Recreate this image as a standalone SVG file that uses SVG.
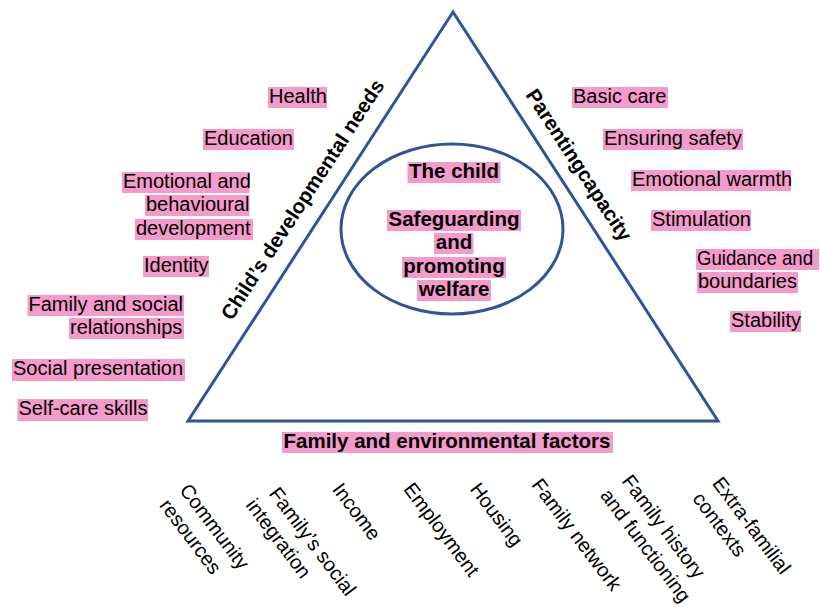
<svg xmlns="http://www.w3.org/2000/svg" width="820" height="607" viewBox="0 0 820 607">
<style>
.t{font-family:"Liberation Sans",Arial,sans-serif;font-size:20px;fill:#000}
.b{font-family:"Liberation Sans",Arial,sans-serif;font-size:20.5px;font-weight:bold;fill:#000}
.m{text-anchor:middle}
.hl{fill:#F59BCB}
.shape{fill:none;stroke:#2F5597;stroke-width:3}
</style>
<rect width="820" height="607" fill="#fff"/>
<g id="connectors">
<polygon class="shape" points="453,12 188,421 718,421" stroke-linejoin="miter"/>
<ellipse class="shape" cx="452" cy="229" rx="111" ry="85"/>
</g>
<g id="side-child-needs"><text class="b m" transform="translate(302.5 199.5) rotate(-57)" x="0" y="7">Child’s developmental needs</text></g>
<g id="side-parenting"><text class="b m" transform="translate(579 165) rotate(57)" x="0" y="7">Parentingcapacity</text></g>
<g id="centre">
<rect class="hl" x="407.5" y="162" width="93" height="21"/><text class="b m" x="454" y="178">The child</text>
<rect class="hl" x="387" y="210" width="134" height="21"/><text class="b m" x="454" y="226">Safeguarding</text>
<rect class="hl" x="434" y="233" width="39.5" height="21"/><text class="b m" x="454" y="249">and</text>
<rect class="hl" x="402" y="257" width="104" height="21"/><text class="b m" x="454" y="273">promoting</text>
<rect class="hl" x="417" y="280" width="74" height="21"/><text class="b m" x="454" y="296">welfare</text>
</g>
<g id="bottom-title"><rect class="hl" x="282" y="432" width="331" height="21"/><text class="b m" x="447" y="448">Family and environmental factors</text></g>
<g id="n-health"><rect class="hl" x="268" y="87" width="59" height="21"/><text class="t" x="269" y="103">Health</text></g>
<g id="n-education"><rect class="hl" x="203" y="129" width="91" height="21"/><text class="t" x="204" y="145">Education</text></g>
<g id="n-emotional">
<rect class="hl" x="122" y="172" width="127.5" height="21"/><text class="t" x="123" y="188">Emotional and</text>
<rect class="hl" x="145" y="195" width="104.5" height="21"/><text class="t" x="146" y="211">behavioural</text>
<rect class="hl" x="135" y="219" width="118" height="21"/><text class="t" x="136" y="235">development</text>
</g>
<g id="n-identity"><rect class="hl" x="143" y="256" width="66" height="21"/><text class="t" x="144" y="272">Identity</text></g>
<g id="n-family-social">
<rect class="hl" x="27.5" y="295" width="156.5" height="21"/><text class="t" x="28.5" y="311">Family and social</text>
<rect class="hl" x="69" y="318" width="115" height="21"/><text class="t" x="70" y="334">relationships</text>
</g>
<g id="n-social-presentation"><rect class="hl" x="12" y="359" width="173" height="22"/><text class="t" x="13" y="375">Social presentation</text></g>
<g id="n-self-care"><rect class="hl" x="17.5" y="399" width="130.5" height="22"/><text class="t" x="18.5" y="415">Self-care skills</text></g>
<g id="n-basic-care"><rect class="hl" x="572" y="87" width="96" height="21"/><text class="t" x="573" y="103">Basic care</text></g>
<g id="n-safety"><rect class="hl" x="603" y="129" width="140" height="21"/><text class="t" x="604" y="145">Ensuring safety</text></g>
<g id="n-warmth"><rect class="hl" x="631" y="170" width="160" height="21"/><text class="t" x="632" y="186">Emotional warmth</text></g>
<g id="n-stimulation"><rect class="hl" x="651" y="210" width="100" height="21"/><text class="t" x="652" y="226">Stimulation</text></g>
<g id="n-guidance">
<rect class="hl" x="696" y="249" width="123" height="21"/><text class="t" x="697" y="265" textLength="116" lengthAdjust="spacingAndGlyphs">Guidance and</text>
<rect class="hl" x="697" y="272" width="101" height="21"/><text class="t" x="698" y="288">boundaries</text>
</g>
<g id="n-stability"><rect class="hl" x="730" y="311" width="71" height="21"/><text class="t" x="731" y="327">Stability</text></g>
<g id="n-community">
<text class="t m" transform="translate(214 527) rotate(53)" y="6">Community</text>
<text class="t m" transform="translate(190 537) rotate(53)" y="6">resources</text>
</g>
<g id="n-integration">
<text class="t m" transform="translate(312 542) rotate(53)" y="6">Family’s social</text>
<text class="t m" transform="translate(278 539) rotate(53)" y="6">integration</text>
</g>
<g id="n-income"><text class="t m" transform="translate(356 512) rotate(53)" y="6">Income</text></g>
<g id="n-employment"><text class="t m" transform="translate(441 530) rotate(53)" y="6">Employment</text></g>
<g id="n-housing"><text class="t m" transform="translate(496 515) rotate(53)" y="6">Housing</text></g>
<g id="n-family-network"><text class="t m" transform="translate(576 535) rotate(53)" y="6">Family network</text></g>
<g id="n-family-history">
<text class="t m" transform="translate(663 527) rotate(53)" y="6">Family history</text>
<text class="t m" transform="translate(645 546) rotate(53)" y="6">and functioning</text>
</g>
<g id="n-extra-familial">
<text class="t m" transform="translate(751 526) rotate(53)" y="6">Extra-familial</text>
<text class="t m" transform="translate(719 525) rotate(53)" y="6">contexts</text>
</g>
</svg>
